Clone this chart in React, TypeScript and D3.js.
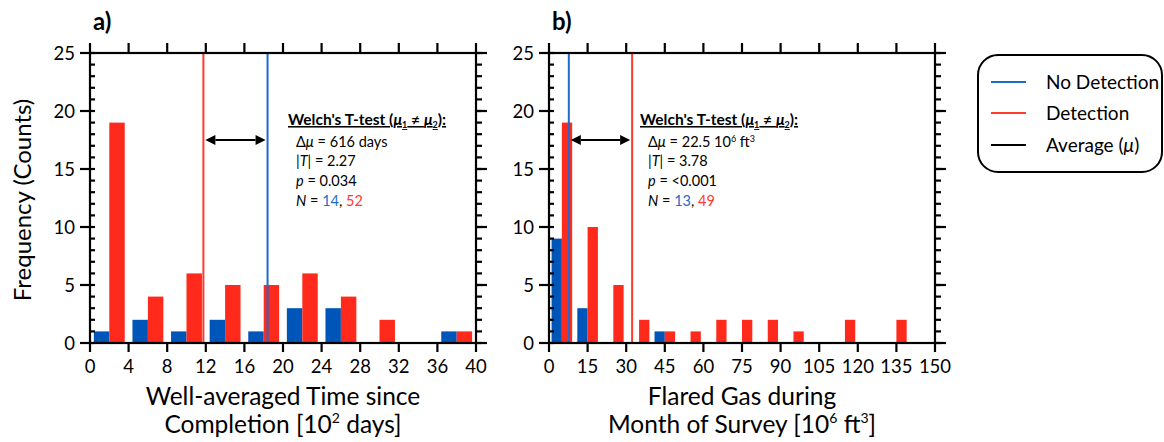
import React from "react";
import * as d3 from "d3";

// ---------- data ----------
const binsA = [0, 4, 8, 12, 16, 20, 24, 28, 32, 36];
const binWidthA = 4;
const noDetA = [1, 2, 1, 2, 1, 3, 3, 0, 0, 1];
const detA = [19, 4, 6, 5, 5, 6, 4, 2, 0, 1];
const meanNoDetA = 18.4;
const meanDetA = 11.75;
const ticksXA = [0, 4, 8, 12, 16, 20, 24, 28, 32, 36, 40];

const binsB = [0, 10, 20, 30, 40, 50, 60, 70, 80, 90, 100, 110, 120, 130];
const binWidthB = 10;
const noDetB = [9, 3, 0, 0, 1, 0, 0, 0, 0, 0, 0, 0, 0, 0];
const detB = [19, 10, 5, 2, 1, 1, 2, 2, 2, 1, 0, 2, 0, 2];
const meanNoDetB = 7.7;
const meanDetB = 32.3;
const ticksXB = [0, 15, 30, 45, 60, 75, 90, 105, 120, 135, 150];

const ticksY = [0, 5, 10, 15, 20, 25];
const minorY = d3.range(0, 26);

const statsA = { dmu: "616 days", T: "2.27", p: "0.034", n1: "14", n2: "52" };
const statsB = { T: "3.78", p: "<0.001", n1: "13", n2: "49" };

const BLUE_BAR = "#0055b8";
const RED_BAR = "#ff2a1c";
const BLUE_LINE = "#1f6acb";
const RED_LINE = "#ff3b2e";
const FONT = "Lato, 'Open Sans', sans-serif";

const Y0 = 343;
const Y1 = 53;
const yScale = d3.scaleLinear().domain([0, 25]).range([Y0, Y1]);

type PanelProps = {
  x0: number;
  x1: number;
  domainMax: number;
  bins: number[];
  binWidth: number;
  blue: number[];
  red: number[];
  meanBlue: number;
  meanRed: number;
  ticksX: number[];
  letter: string;
  label1: React.ReactNode;
  label2: React.ReactNode;
  stats: React.ReactNode;
};

function Panel(props: PanelProps) {
  const { x0, x1, domainMax, bins, binWidth, blue, red, meanBlue, meanRed, ticksX } = props;
  const x = d3.scaleLinear().domain([0, domainMax]).range([x0, x1]);
  const sw = 2.2;
  const cx = (x0 + x1) / 2;
  const lo = Math.min(meanBlue, meanRed);
  const hi = Math.max(meanBlue, meanRed);
  const ay = yScale(17.5);
  const ax0 = x(lo) + 2;
  const ax1 = x(hi) - 2;
  const ah = 10;
  return (
    <g>
      {/* bars */}
      {bins.map((b, i) =>
        blue[i] > 0 ? (
          <rect
            key={"b" + i}
            x={x(b + 0.1 * binWidth)}
            width={x(b + 0.5 * binWidth) - x(b + 0.1 * binWidth)}
            y={yScale(blue[i])}
            height={Y0 - yScale(blue[i])}
            fill={BLUE_BAR}
          />
        ) : null
      )}
      {bins.map((b, i) =>
        red[i] > 0 ? (
          <rect
            key={"r" + i}
            x={x(b + 0.5 * binWidth)}
            width={x(b + 0.9 * binWidth) - x(b + 0.5 * binWidth)}
            y={yScale(red[i])}
            height={Y0 - yScale(red[i])}
            fill={RED_BAR}
          />
        ) : null
      )}
      {/* mean lines */}
      <line x1={x(meanRed)} x2={x(meanRed)} y1={Y1} y2={Y0} stroke={RED_LINE} strokeWidth={2} />
      <line x1={x(meanBlue)} x2={x(meanBlue)} y1={Y1} y2={Y0} stroke={BLUE_LINE} strokeWidth={2} />
      {/* arrow */}
      <line x1={ax0 + ah} x2={ax1 - ah} y1={ay} y2={ay} stroke="#000" strokeWidth={2} />
      <path d={`M${ax0},${ay} L${ax0 + ah},${ay - 5} L${ax0 + ah},${ay + 5} Z`} fill="#000" />
      <path d={`M${ax1},${ay} L${ax1 - ah},${ay - 5} L${ax1 - ah},${ay + 5} Z`} fill="#000" />
      {/* frame */}
      <rect x={x0} y={Y1} width={x1 - x0} height={Y0 - Y1} fill="none" stroke="#000" strokeWidth={sw} />
      {/* x ticks top and bottom */}
      {ticksX.map((t) => (
        <g key={"xt" + t}>
          <line x1={x(t)} x2={x(t)} y1={Y0} y2={Y0 + 9} stroke="#000" strokeWidth={sw} />
          <line x1={x(t)} x2={x(t)} y1={Y1} y2={Y1 - 10} stroke="#000" strokeWidth={sw} />
          <text x={x(t)} y={373} textAnchor="middle" fontFamily={FONT} fontSize={18.5} fill="#000">
            {t}
          </text>
        </g>
      ))}
      {/* y minor ticks */}
      {minorY.map((t) => (
        <g key={"ym" + t}>
          <line x1={x0} x2={x0 + 5} y1={yScale(t)} y2={yScale(t)} stroke="#000" strokeWidth={sw} />
          <line x1={x1} x2={x1 + 6} y1={yScale(t)} y2={yScale(t)} stroke="#000" strokeWidth={sw} />
        </g>
      ))}
      {ticksY.map((t) => (
        <g key={"yt" + t}>
          <line x1={x0 - 10} x2={x0} y1={yScale(t)} y2={yScale(t)} stroke="#000" strokeWidth={sw} />
          <line x1={x1} x2={x1 + 11} y1={yScale(t)} y2={yScale(t)} stroke="#000" strokeWidth={sw} />
          <text
            x={x0 - 15}
            y={yScale(t) + 6.5}
            textAnchor="end"
            fontFamily={FONT}
            fontSize={18.5}
            fill="#000"
          >
            {t}
          </text>
        </g>
      ))}
      {/* panel letter */}
      <text x={x0 + 3} y={30} fontFamily={FONT} fontWeight="bold" fontSize={24} fill="#000">
        {props.letter}
      </text>
      {/* axis label */}
      <text x={cx} y={405} textAnchor="middle" fontFamily={FONT} fontSize={24.5} fill="#000">
        {props.label1}
      </text>
      <text x={cx} y={433} textAnchor="middle" fontFamily={FONT} fontSize={24.5} fill="#000">
        {props.label2}
      </text>
      {props.stats}
    </g>
  );
}

function StatsBlock(props: {
  x: number;
  y: number;
  dmu: React.ReactNode;
  T: string;
  p: string;
  n1: string;
  n2: string;
}) {
  const { x, y } = props;
  const fs = 14.5;
  const step = 19.7;
  const ix = x + 8;
  return (
    <g fontFamily={FONT} fontSize={fs} fill="#000">
      <text x={x} y={y} fontWeight="bold" fontSize={15.5} textDecoration="underline">
        Welch's T-test (<tspan fontStyle="italic">μ</tspan>
        <tspan fontSize={9} dy={3}>1</tspan>
        <tspan dy={-3}> ≠ </tspan>
        <tspan fontStyle="italic">μ</tspan>
        <tspan fontSize={9} dy={3}>2</tspan>
        <tspan dy={-3}>):</tspan>
      </text>
      <text x={ix} y={y + step * 1 + 2}>
        Δ<tspan fontStyle="italic">μ</tspan> = {props.dmu}
      </text>
      <text x={ix} y={y + step * 2 + 2}>
        |<tspan fontStyle="italic">T</tspan>| = {props.T}
      </text>
      <text x={ix} y={y + step * 3 + 2}>
        <tspan fontStyle="italic">p</tspan> = {props.p}
      </text>
      <text x={ix} y={y + step * 4 + 2}>
        <tspan fontStyle="italic">N</tspan> = <tspan fill={BLUE_LINE}>{props.n1}</tspan>,{" "}
        <tspan fill={RED_LINE}>{props.n2}</tspan>
      </text>
    </g>
  );
}

export default function App() {
  return (
    <svg width={1164} height={442} style={{ display: "block", position: "absolute", left: 0, top: 0 }}>
      <rect x={0} y={0} width={1164} height={442} fill="#fff" />
      <Panel
        x0={90}
        x1={476}
        domainMax={40}
        bins={binsA}
        binWidth={binWidthA}
        blue={noDetA}
        red={detA}
        meanBlue={meanNoDetA}
        meanRed={meanDetA}
        ticksX={ticksXA}
        letter="a)"
        label1="Well-averaged Time since"
        label2={
          <>
            Completion [10<tspan fontSize={14} dy={-10}>2</tspan>
            <tspan dy={10}> days]</tspan>
          </>
        }
        stats={
          <StatsBlock x={288} y={125} dmu={statsA.dmu} T={statsA.T} p={statsA.p} n1={statsA.n1} n2={statsA.n2} />
        }
      />
      <Panel
        x0={549}
        x1={935}
        domainMax={150}
        bins={binsB}
        binWidth={binWidthB}
        blue={noDetB}
        red={detB}
        meanBlue={meanNoDetB}
        meanRed={meanDetB}
        ticksX={ticksXB}
        letter="b)"
        label1="Flared Gas during"
        label2={
          <>
            Month of Survey [10<tspan fontSize={14} dy={-10}>6</tspan>
            <tspan dy={10}> ft</tspan>
            <tspan fontSize={14} dy={-10}>3</tspan>
            <tspan dy={10}>]</tspan>
          </>
        }
        stats={
          <StatsBlock
            x={640}
            y={125}
            dmu={
              <>
                22.5 10<tspan fontSize={9} dy={-5}>6</tspan>
                <tspan dy={5}> ft</tspan>
                <tspan fontSize={9} dy={-5}>3</tspan>
              </>
            }
            T={statsB.T}
            p={statsB.p}
            n1={statsB.n1}
            n2={statsB.n2}
          />
        }
      />
      {/* y axis title */}
      <text
        transform="translate(31,200) rotate(-90)"
        textAnchor="middle"
        fontFamily={FONT}
        fontSize={24}
        fill="#000"
      >
        Frequency (Counts)
      </text>
      {/* legend */}
      <g fontFamily={FONT} fontSize={19} fill="#000">
        <rect x={978} y={55} width={184} height={117} rx={20} ry={20} fill="#fff" stroke="#000" strokeWidth={2} />
        <line x1={991} x2={1026} y1={82} y2={82} stroke={BLUE_LINE} strokeWidth={2} />
        <line x1={991} x2={1026} y1={113} y2={113} stroke={RED_LINE} strokeWidth={2} />
        <line x1={991} x2={1026} y1={145} y2={145} stroke="#000" strokeWidth={2} />
        <text x={1046} y={89}>No Detection</text>
        <text x={1046} y={120}>Detection</text>
        <text x={1046} y={152}>
          Average (<tspan fontStyle="italic">μ</tspan>)
        </text>
      </g>
    </svg>
  );
}
